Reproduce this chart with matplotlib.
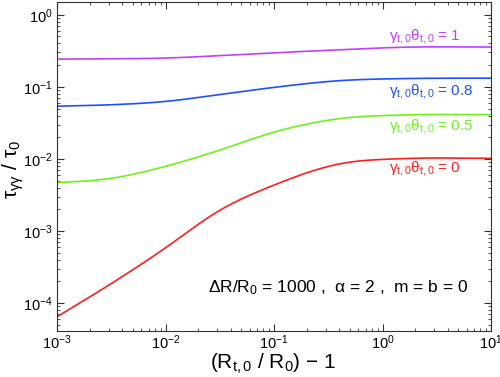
import matplotlib
matplotlib.use('Agg')
import matplotlib.pyplot as plt
import numpy as np

plt.rcParams['font.family'] = ['Liberation Sans', 'DejaVu Sans']
plt.rcParams['mathtext.fontset'] = 'custom'
plt.rcParams['mathtext.rm'] = 'Liberation Sans'
plt.rcParams['mathtext.it'] = 'Liberation Sans'
plt.rcParams['mathtext.default'] = 'regular'

# x = (R_t,0 / R_0) - 1
x = [1e-3, 3e-3, 1e-2, 3e-2, 1e-1, 4e-1, 1.5, 1e1]

# tau_gg / tau_0 for each gamma*theta
red = [6.45e-5, 1.77e-4, 5.8e-4, 1.88e-3, 4.35e-3, 8.65e-3, 1.01e-2, 1.02e-2]
green = [4.69e-3, 5.27e-3, 7.87e-3, 1.29e-2, 2.37e-2, 3.65e-2, 4.08e-2, 4.12e-2]
blue = [5.39e-2, 5.62e-2, 6.25e-2, 7.74e-2, 9.84e-2, 0.1223, 0.1303, 0.132]
purple = [0.2426, 0.245, 0.2505, 0.27, 0.297, 0.3266, 0.355, 0.357]

series = [red, green, blue, purple]
labels = ['0', '0.5', '0.8', '1']
colors = ['#ff2020', '#70f020', '#2050ff', '#c040ff']
label_y = [7.3e-3, 2.84e-2, 8.7e-2, 0.5]


def smooth_curve(xk, yk, xf):
    # cubic Hermite through the read points, then a light gaussian smoothing
    h = np.diff(xk)
    d = np.diff(yk) / h
    m = np.zeros_like(yk)
    m[0], m[-1] = d[0], d[-1]
    for i in range(1, len(xk) - 1):
        m[i] = (d[i - 1] * h[i] + d[i] * h[i - 1]) / (h[i] + h[i - 1])
    idx = np.clip(np.searchsorted(xk, xf) - 1, 0, len(xk) - 2)
    t = (xf - xk[idx]) / h[idx]
    h00 = 2 * t**3 - 3 * t**2 + 1
    h10 = t**3 - 2 * t**2 + t
    h01 = -2 * t**3 + 3 * t**2
    h11 = t**3 - t**2
    yf = (h00 * yk[idx] + h10 * h[idx] * m[idx]
          + h01 * yk[idx + 1] + h11 * h[idx] * m[idx + 1])
    step = xf[1] - xf[0]
    n = int(0.35 / step)
    g = np.exp(-0.5 * (np.arange(-n, n + 1) * step / 0.12) ** 2)
    g /= g.sum()
    pad = np.concatenate([2 * yf[0] - yf[n:0:-1], yf,
                          2 * yf[-1] - yf[-2:-n - 2:-1]])
    return np.convolve(pad, g, mode='valid')


fig = plt.figure(figsize=(5, 3.77), dpi=100)
ax = fig.add_axes([0.114, 0.122, 0.868, 0.873])

lx = np.log10(x)
fine = np.linspace(lx[0], lx[-1], 400)
for ys, lab, col, ly in zip(series, labels, colors, label_y):
    yf = smooth_curve(lx, np.log10(ys), fine)
    ax.plot(10**fine, 10**yf, color=col, lw=1.2)
    ax.text(1.15, ly, 'γ$_{t,0}$θ$_{t,0}$ = ' + lab, color=col,
            fontsize=11, va='center', ha='left')

ax.text(0.348, 0.131, 'ΔR/R$_0$ = 1000 ,  α = 2 ,  m = b = 0',
        transform=ax.transAxes, fontsize=12.5, va='center', ha='left')

ax.set_xscale('log')
ax.set_yscale('log')
ax.set_xlim(1e-3, 1e1)
ax.set_ylim(4.1e-5, 1.51)
ax.set_xticks([1e-3, 1e-2, 1e-1, 1e0, 1e1])
ax.set_yticks([1e-4, 1e-3, 1e-2, 1e-1, 1e0])
ax.tick_params(which='both', direction='in', top=True, right=True,
               labelsize=10.5, colors='#333333', labelcolor='black')
ax.tick_params(which='major', length=5)
ax.tick_params(which='minor', length=2.5)
ax.tick_params(axis='x', pad=2)
ax.tick_params(axis='y', pad=3)
for s in ax.spines.values():
    s.set_color('#333333')

ax.set_xlabel('(R$_{t,0}$ / R$_0$) − 1', fontsize=15)
ax.set_ylabel('τ$_{γγ}$ / τ$_0$', fontsize=15)
ax.xaxis.set_label_coords(0.497, -0.063)
ax.yaxis.set_label_coords(-0.072, 0.49)

fig.savefig('out.png', dpi=100)
